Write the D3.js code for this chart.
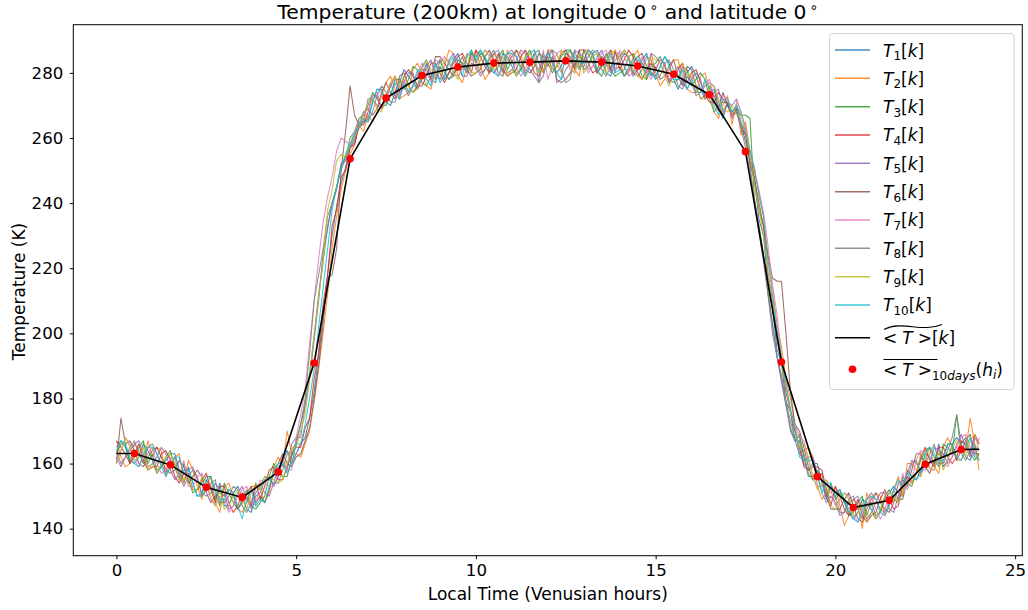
<!DOCTYPE html>
<html><head><meta charset="utf-8">
<script src="https://cdn.jsdelivr.net/npm/d3@7"></script>
<style>
body{margin:0;background:#fff}
svg{display:block}
text{font-family:"DejaVu Sans",sans-serif;fill:#000}
</style>
</head><body>
<svg id="chart" width="1028" height="610"></svg>
<script>
// ---------------- DATA ----------------
// local time sample grid (Venusian hours, 1/8 h steps)
const hours = [
0,0.125,0.25,0.375,0.5,0.625,0.75,0.875,
1,1.125,1.25,1.375,1.5,1.625,1.75,1.875,
2,2.125,2.25,2.375,2.5,2.625,2.75,2.875,
3,3.125,3.25,3.375,3.5,3.625,3.75,3.875,
4,4.125,4.25,4.375,4.5,4.625,4.75,4.875,
5,5.125,5.25,5.375,5.5,5.625,5.75,5.875,
6,6.125,6.25,6.375,6.5,6.625,6.75,6.875,
7,7.125,7.25,7.375,7.5,7.625,7.75,7.875,
8,8.125,8.25,8.375,8.5,8.625,8.75,8.875,
9,9.125,9.25,9.375,9.5,9.625,9.75,9.875,
10,10.125,10.25,10.375,10.5,10.625,10.75,10.875,
11,11.125,11.25,11.375,11.5,11.625,11.75,11.875,
12,12.125,12.25,12.375,12.5,12.625,12.75,12.875,
13,13.125,13.25,13.375,13.5,13.625,13.75,13.875,
14,14.125,14.25,14.375,14.5,14.625,14.75,14.875,
15,15.125,15.25,15.375,15.5,15.625,15.75,15.875,
16,16.125,16.25,16.375,16.5,16.625,16.75,16.875,
17,17.125,17.25,17.375,17.5,17.625,17.75,17.875,
18,18.125,18.25,18.375,18.5,18.625,18.75,18.875,
19,19.125,19.25,19.375,19.5,19.625,19.75,19.875,
20,20.125,20.25,20.375,20.5,20.625,20.75,20.875,
21,21.125,21.25,21.375,21.5,21.625,21.75,21.875,
22,22.125,22.25,22.375,22.5,22.625,22.75,22.875,
23,23.125,23.25,23.375,23.5,23.625,23.75,23.875,
24];

const T1 = [
165,167,165,161,160,162,166,164, 161,157,159,161,163,163,158,154,
159,154,150,151,155,153,149,154, 147,147,151,153,150,146,145,150,
151,155,156,153,156,161,164,160, 163,166,168,174,182,193,205,218,
230,239,246,251,257,259,264,265, 266,271,275,275,271,270,274,277,
281,279,277,275,279,283,278,277, 282,278,280,284,286,282,280,286,
285,287,284,281,280,282,286,285, 282,279,281,284,286,287,283,280,
287,283,280,282,286,285,282,287, 281,282,286,287,284,280,279,283,
283,286,285,279,281,284,286,280, 279,282,285,283,278,275,278,280,
282,279,275,272,274,275,269,266, 271,266,269,263,261,252,247,235,
230,215,208,195,191,179,176,167, 167,160,158,160,160,154,149,153,
151,152,148,145,143,145,149,148, 146,143,145,149,151,153,151,150,
158,156,155,158,163,162,160,166, 159,161,166,168,166,162,161,165,
164];
const T2 = [
167,162,159,160,166,164,160,167, 162,165,164,156,159,162,163,154,
161,158,153,149,153,156,148,145, 153,154,150,146,145,148,153,153,
152,148,151,159,162,159,170,163, 163,162,166,170,179,189,200,212,
226,236,244,250,255,258,264,262, 267,265,268,273,277,279,275,272,
273,274,281,283,280,276,275,281, 278,282,287,286,279,277,282,284,
287,282,278,280,286,284,280,287, 283,287,286,279,282,286,287,280,
287,287,283,280,284,287,281,279, 287,287,285,280,279,282,287,286,
284,279,280,285,287,282,278,286, 280,276,278,281,284,284,279,275,
274,274,279,280,275,268,266,270, 273,264,271,261,265,256,251,242,
236,223,214,203,196,186,180,172, 163,164,165,162,153,149,151,151,
153,147,141,144,149,147,140,151, 147,151,150,144,147,152,156,150,
160,160,158,156,161,165,159,157, 165,168,165,161,161,164,174,166,
158];
const T3 = [
163,166,166,160,162,165,167,160, 163,158,159,162,164,159,155,160,
155,151,152,154,156,156,151,147, 154,151,148,146,149,152,147,146,
148,150,156,160,158,156,156,162, 167,172,178,188,199,212,222,233,
240,245,252,254,260,262,266,267, 270,274,272,270,270,273,278,278,
275,278,282,281,277,276,279,282, 284,280,278,280,284,283,281,287,
283,286,285,280,282,285,287,281, 284,280,281,285,287,283,280,286,
283,280,282,285,287,287,284,281, 287,286,283,280,283,286,281,279,
280,281,285,286,283,279,278,282, 283,285,282,278,277,278,282,281,
276,278,280,278,272,268,270,271, 271,268,270,267,267,266,241,233,
224,213,203,193,186,178,171,167, 169,162,156,156,158,155,150,154,
149,151,149,144,145,148,150,144, 148,144,145,150,152,149,148,156,
154,153,157,161,164,165,162,159, 166,165,163,175,166,168,163,161,
163];
const T4 = [
167,165,163,160,163,166,161,158, 159,159,163,164,161,156,154,157,
157,152,152,155,157,152,148,153, 153,148,145,147,151,150,147,154,
149,153,158,159,155,155,159,163, 165,165,171,174,186,194,209,218,
233,238,248,250,257,258,264,264, 268,273,273,269,272,276,279,274,
279,281,279,276,276,279,283,283, 280,277,280,283,285,286,283,280,
287,285,282,280,283,286,281,279, 280,281,285,287,284,280,279,283,
285,281,282,286,287,284,281,287, 287,283,280,281,285,284,281,287,
281,284,287,285,280,278,281,283, 281,284,283,277,279,281,283,277,
280,281,277,273,271,271,274,272, 270,267,269,264,261,254,248,238,
233,218,210,198,192,182,176,170, 165,159,158,159,159,158,152,147,
153,150,146,144,146,149,144,142, 144,145,149,152,149,146,147,153,
156,154,157,162,165,161,159,165, 165,162,160,162,167,166,163,169,
166];
const T5 = [
162,159,162,164,166,167,163,159, 160,162,165,163,158,155,157,158,
158,159,155,151,150,151,154,152, 151,146,147,151,153,149,146,153,
154,151,150,154,159,160,158,166, 168,168,178,186,198,210,225,232,
240,244,252,253,258,261,265,265, 272,272,270,269,273,277,273,272,
277,280,280,275,278,282,284,279, 278,279,284,286,283,279,279,283,
282,279,281,284,286,287,283,280, 281,284,287,286,281,279,277,284,
286,287,277,278,281,283,287,286, 285,281,282,285,287,283,280,286,
286,282,279,280,284,283,280,286, 285,283,280,277,280,282,277,275,
278,280,278,272,273,274,275,268, 271,270,272,268,263,252,240,231,
222,212,200,193,185,178,170,167, 163,161,162,162,157,151,148,150,
148,144,145,148,149,150,146,143, 145,148,151,151,146,145,150,154,
157,161,160,158,158,160,165,164, 163,160,162,166,169,165,162,168,
166];
const T6 = [
160,174,166,167,164,160,159,162, 164,165,162,158,157,158,161,159,
154,156,158,156,151,148,150,151, 150,152,151,146,148,151,153,148,
150,148,152,157,160,163,160,159, 162,163,167,171,180,190,203,217,
218,226,250,262,276,267,264,268, 269,267,269,274,277,274,272,279,
280,276,274,276,281,281,278,285, 285,283,281,279,282,285,281,279,
280,281,285,287,284,280,279,283, 285,287,284,281,280,282,286,285,
282,285,278,277,278,280,283,285, 284,287,286,280,282,285,287,281,
282,279,281,283,285,286,282,279, 282,278,279,282,284,279,276,282,
281,276,272,273,276,273,269,274, 270,267,268,264,259,253,247,240,
233,224,217,216,216,200,182,172, 170,165,159,155,156,157,150,146,
146,146,149,151,147,143,142,146, 149,151,148,146,145,148,154,155,
153,158,163,163,159,157,161,163, 162,166,166,161,164,167,169,163,
163];
const T7 = [
161,164,168,166,161,159,162,163, 165,160,157,158,162,160,156,161,
153,153,156,157,154,149,147,150, 149,145,147,150,152,153,149,147,
155,154,153,153,157,162,158,158, 168,175,183,197,210,223,234,242,
248,256,260,259,258,262,265,266, 268,273,274,269,271,276,279,273,
278,274,276,280,283,280,277,284, 283,285,283,280,279,281,286,285,
281,284,287,286,281,279,282,284, 286,282,279,281,285,284,281,287,
278,282,286,287,285,281,280,284, 283,280,282,284,286,287,283,280,
287,285,282,279,282,285,280,278, 281,284,283,278,279,281,282,277,
279,274,274,277,278,272,268,273, 272,266,270,263,262,256,250,244,
237,227,215,206,192,185,176,172, 168,167,161,156,153,153,155,152,
147,149,151,150,144,142,145,147, 150,146,143,146,150,150,149,157,
152,155,161,164,162,158,158,162, 161,159,162,165,168,169,165,162,
168];
const T8 = [
164,160,162,165,167,163,160,165, 166,163,160,157,160,162,156,153,
156,158,156,150,152,154,155,148, 148,150,153,152,147,145,148,151,
153,156,155,154,154,158,163,164, 166,172,180,194,210,218,226,236,
240,245,250,254,257,260,263,265, 265,268,273,276,274,271,271,276,
276,273,276,279,282,284,280,278, 284,281,278,279,284,283,281,286,
284,280,281,285,287,283,280,286, 287,285,282,280,283,286,277,279,
284,287,286,281,277,278,287,282, 282,285,287,286,281,279,282,284,
285,287,284,280,279,281,285,284, 278,279,283,284,281,276,275,279,
277,273,274,276,277,276,271,267, 271,268,268,263,257,250,241,233,
224,212,203,193,187,179,173,168, 168,163,157,155,157,155,150,153,
150,145,145,149,150,146,143,149, 151,149,146,145,148,152,149,149,
155,160,161,157,160,163,166,160, 160,164,168,175,163,161,164,166,
161];
const T9 = [
160,164,168,165,161,162,165,158, 160,157,160,162,163,160,155,155,
156,152,152,156,154,150,147,152, 146,147,150,152,149,146,151,154,
152,156,156,155,154,155,160,165, 165,170,175,186,200,211,222,238,
244,253,255,254,258,261,264,267, 271,272,269,268,272,277,279,276,
279,276,274,275,281,284,281,280, 280,284,284,280,278,282,286,280,
280,284,287,285,281,282,285,279, 281,279,282,285,286,284,280,281,
284,281,282,287,285,282,280,286, 280,282,285,286,283,280,285,287,
284,287,285,281,279,278,282,285, 284,283,279,276,279,282,283,279,
280,276,272,272,276,276,272,269, 268,270,267,267,262,254,246,238,
230,219,209,199,191,183,176,171, 165,166,162,156,152,154,155,147,
146,149,151,149,144,145,148,142, 145,143,146,150,151,150,148,151,
155,154,157,163,162,159,158,164, 158,161,165,167,165,162,167,169,
164];
const T10 = [
164,167,166,162,160,159,163,165, 165,163,159,156,159,162,162,157,
158,154,150,150,155,156,152,149, 149,152,151,147,143,149,152,147,
149,148,153,158,160,160,157,160, 166,166,172,180,189,202,214,226,
238,245,251,255,258,261,264,266, 265,271,275,274,271,273,277,272,
277,274,276,281,280,278,276,283, 277,279,283,285,282,279,285,287,
284,287,285,282,280,279,283,286, 286,285,281,279,282,286,287,283,
286,283,280,278,286,287,285,283, 283,287,286,281,279,283,286,280,
281,279,282,284,285,283,279,280, 278,282,285,282,278,278,281,275,
278,274,274,278,275,270,267,272, 272,268,270,265,262,256,250,243,
236,222,212,201,193,184,177,171, 162,161,161,161,156,151,154,154,
150,152,149,146,143,142,146,149, 150,149,145,144,147,152,155,153,
157,156,155,157,163,165,163,161, 161,166,166,162,161,165,168,162,
161];

const series = [T1,T2,T3,T4,T5,T6,T7,T8,T9,T10];
const seriesSubs = ["1","2","3","4","5","6","7","8","9","10"];
const colors = ["#1f77b4","#ff7f0e","#2ca02c","#d62728","#9467bd","#8c564b","#e377c2","#7f7f7f","#bcbd22","#17becf"];

// mean line <T>[k]
const meanHours = [0,0.5,1.5,2.5,3.5,4.5,5.5,6.5,7.5,8.5,9.5,10.5,11.5,12.5,13.5,14.5,15.5,16.5,17.5,18.5,19.5,20.5,21.5,22.5,23.5,24];
const meanValues = [163.1,163.1,159.6,152.7,149.6,157.4,190.9,253.6,272.3,279.2,281.8,283.0,283.3,283.7,283.3,282.1,279.6,273.3,255.8,191.2,156.0,146.5,148.7,159.8,164.3,164.4];

// 10-day hourly mean dots
const dotHours = [0.5,1.5,2.5,3.5,4.5,5.5,6.5,7.5,8.5,9.5,10.5,11.5,12.5,13.5,14.5,15.5,16.5,17.5,18.5,19.5,20.5,21.5,22.5,23.5];
const dotValues = [163.1,159.6,152.7,149.6,157.4,190.9,253.6,272.3,279.2,281.8,283.0,283.3,283.7,283.3,282.1,279.6,273.3,255.8,191.2,156.0,146.5,148.7,159.8,164.3];

const xTicks = [0,5,10,15,20,25];
const yTicks = [140,160,180,200,220,240,260,280];

// ---------------- CHART ----------------
const svg = d3.select("#chart");
const L = 73.3, R = 1022.3, Tp = 24.7, B = 555.7;
const x = d3.scaleLinear().domain([-1.2, 25.2]).range([L, R]);
const y = d3.scaleLinear().domain([131.7, 294.8]).range([B, Tp]);

const line = d3.line().x(d => x(d[0])).y(d => y(d[1]));

const gLines = svg.append("g");
series.forEach((s, i) => {
  gLines.append("path")
    .datum(hours.map((h, k) => [h, s[k]]))
    .attr("d", line)
    .attr("fill", "none")
    .attr("stroke", colors[i])
    .attr("stroke-width", 1.05)
    .attr("stroke-opacity", 0.85)
    .attr("stroke-linejoin", "round");
});

svg.append("path")
  .datum(meanHours.map((h, k) => [h, meanValues[k]]))
  .attr("d", line)
  .attr("fill", "none")
  .attr("stroke", "#000")
  .attr("stroke-width", 1.6);

svg.append("g").selectAll("circle")
  .data(dotHours.map((h, k) => [h, dotValues[k]]))
  .join("circle")
  .attr("cx", d => x(d[0]))
  .attr("cy", d => y(d[1]))
  .attr("r", 3.8)
  .attr("fill", "#ff0000");

// frame
svg.append("rect").attr("x", L).attr("y", Tp).attr("width", R - L).attr("height", B - Tp)
  .attr("fill", "none").attr("stroke", "#000").attr("stroke-width", 1);

// axes
const xAxis = svg.append("g").attr("transform", `translate(0,${B})`)
  .call(d3.axisBottom(x).tickValues(xTicks).tickFormat(d3.format("d")).tickSize(3.5).tickPadding(5.5));
const yAxis = svg.append("g").attr("transform", `translate(${L},0)`)
  .call(d3.axisLeft(y).tickValues(yTicks).tickFormat(d3.format("d")).tickSize(3.5).tickPadding(6.5));
[xAxis, yAxis].forEach(g => {
  g.select(".domain").remove();
  g.selectAll(".tick line").attr("stroke", "#000");
  g.selectAll(".tick text").style("font-size", "16.6px").style("font-family", "DejaVu Sans").attr("fill", "#000");
});

// labels
svg.append("text").attr("x", (L + R) / 2).attr("y", 600).attr("text-anchor", "middle")
  .style("font-size", "17px").text("Local Time (Venusian hours)");
svg.append("text").attr("transform", "translate(25,291.5) rotate(-90)").attr("text-anchor", "middle")
  .style("font-size", "17px").text("Temperature (K)");

// title
const title = svg.append("text").attr("x", (L + R) / 2).attr("y", 18.5).attr("text-anchor", "middle")
  .style("font-size", "20.3px");
title.append("tspan").text("Temperature (200km) at longitude 0");
title.append("tspan").attr("dx", 3).attr("dy", -7).style("font-size", "14px").text("∘");
title.append("tspan").attr("dy", 7).text(" and latitude 0");
title.append("tspan").attr("dx", 3).attr("dy", -7).style("font-size", "14px").text("∘");

// legend
const leg = svg.append("g");
leg.append("rect").attr("x", 829.5).attr("y", 33.5).attr("width", 184.5).attr("height", 356)
  .attr("rx", 3).attr("fill", "#fff").attr("fill-opacity", 0.8).attr("stroke", "#d3d3d3");

const fs = 17;
seriesSubs.forEach((sub, i) => {
  const yy = 50 + i * 28.33;
  leg.append("line").attr("x1", 835).attr("x2", 870).attr("y1", yy).attr("y2", yy)
    .attr("stroke", colors[i]).attr("stroke-width", 1.5).attr("stroke-opacity", 0.85);
  const t = leg.append("text").attr("x", 883).attr("y", yy + 6.5).style("font-size", fs + "px");
  t.append("tspan").attr("font-style", "italic").text("T");
  t.append("tspan").attr("dy", 3.5).style("font-size", "12px").text(sub);
  t.append("tspan").attr("dy", -3.5).text("[");
  t.append("tspan").attr("font-style", "italic").text("k");
  t.append("tspan").text("]");
});

// <T>~[k]
const yM = 337.7;
leg.append("line").attr("x1", 835).attr("x2", 870).attr("y1", yM).attr("y2", yM)
  .attr("stroke", "#000").attr("stroke-width", 1.6);
const tm = leg.append("text").attr("x", 883).attr("y", yM + 6.5).style("font-size", fs + "px");
tm.append("tspan").text("<");
tm.append("tspan").attr("dx", 5).attr("font-style", "italic").text("T");
tm.append("tspan").attr("dx", 5).text(">");
tm.append("tspan").text("[");
tm.append("tspan").attr("font-style", "italic").text("k");
tm.append("tspan").text("]");
leg.append("path").attr("d", `M884,329.5 C902,320 922,333 942,324.5`)
  .attr("fill", "none").attr("stroke", "#000").attr("stroke-width", 1.1);

// <T>bar_10days(h_i)
const yD = 369.3;
leg.append("circle").attr("cx", 852.5).attr("cy", yD).attr("r", 3.8).attr("fill", "#ff0000");
const td = leg.append("text").attr("x", 883).attr("y", yD + 6.5).style("font-size", fs + "px");
td.append("tspan").text("<");
td.append("tspan").attr("dx", 5).attr("font-style", "italic").text("T");
td.append("tspan").attr("dx", 5).text(">");
td.append("tspan").attr("dy", 4).style("font-size", "12px").text("10");
td.append("tspan").style("font-size", "12px").attr("font-style", "italic").text("days");
td.append("tspan").attr("dy", -4).text("(");
td.append("tspan").attr("font-style", "italic").text("h");
td.append("tspan").attr("dy", 3.5).style("font-size", "12px").attr("font-style", "italic").text("i");
td.append("tspan").attr("dy", -3.5).text(")");
leg.append("line").attr("x1", 883.5).attr("x2", 937.5).attr("y1", 359.5).attr("y2", 359.5)
  .attr("stroke", "#000").attr("stroke-width", 1);
</script>
</body></html>
